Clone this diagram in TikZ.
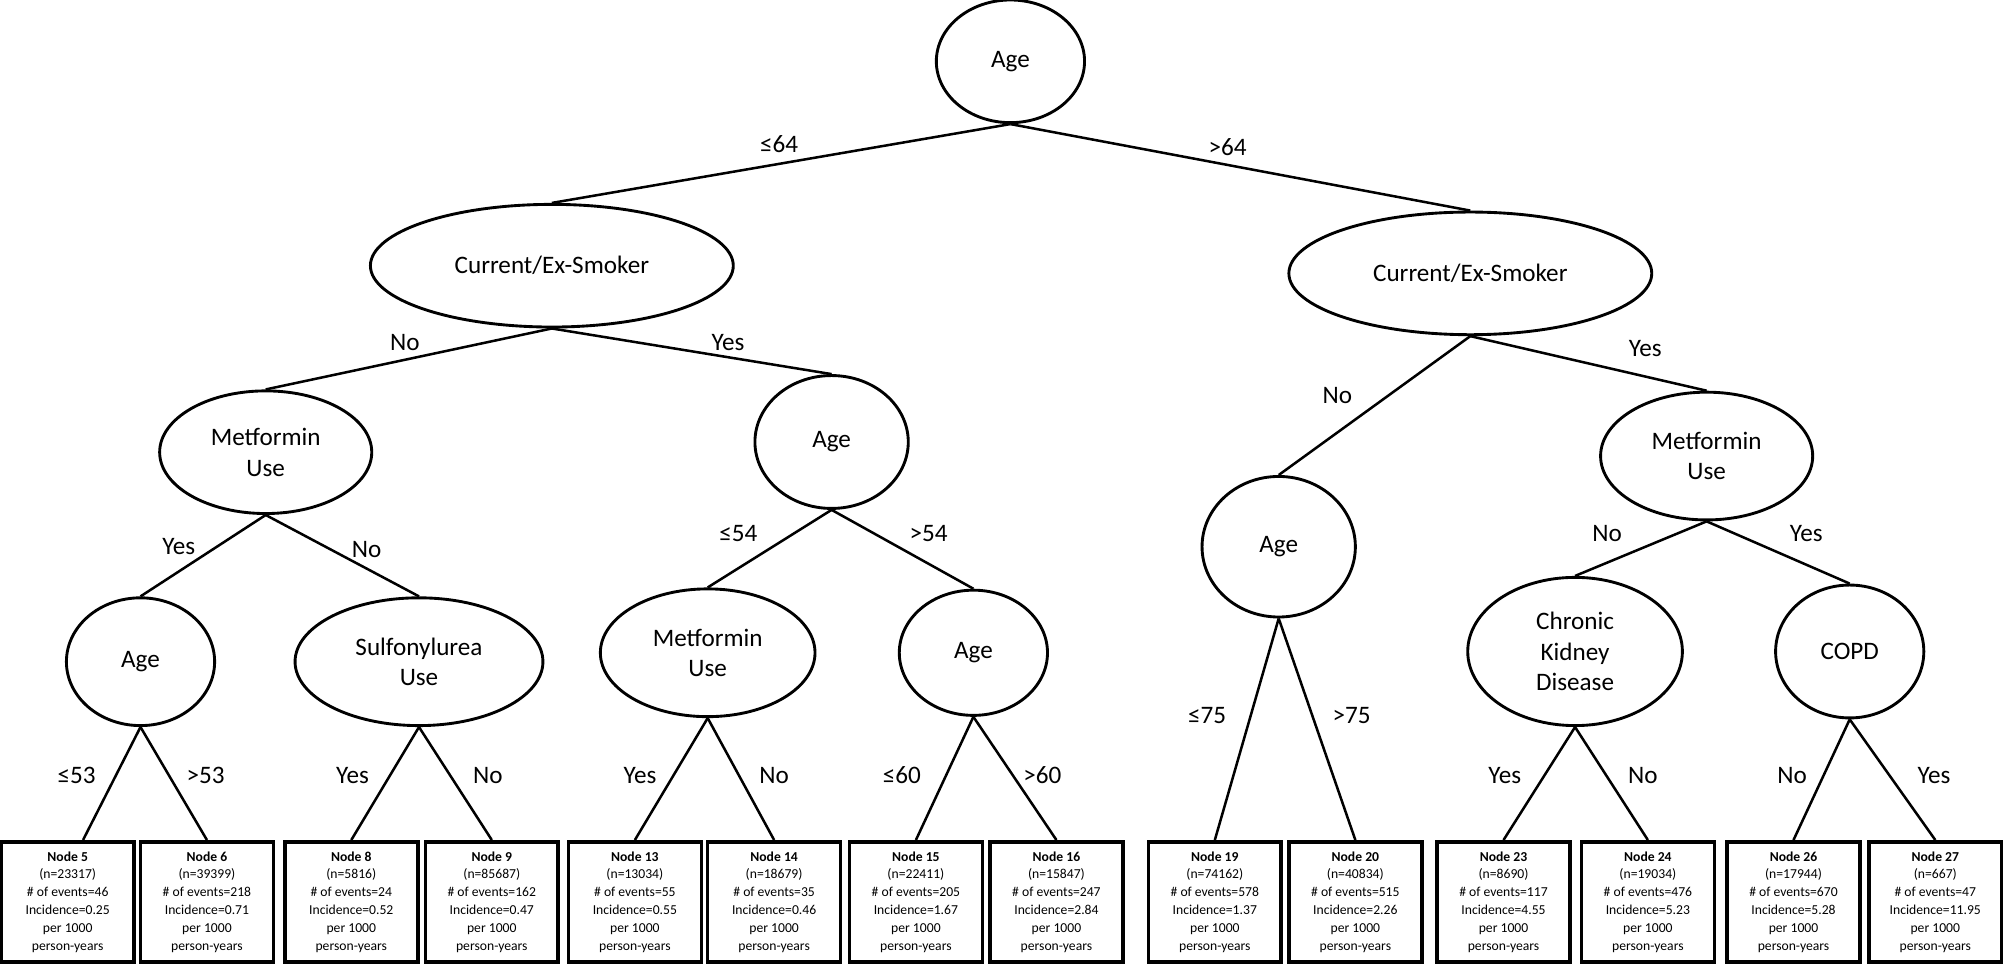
\documentclass[tikz,border=0pt]{standalone}
\usepackage{fontspec}
\setmainfont{Carlito}
\usetikzlibrary{shapes.geometric}
\begin{document}
\begin{tikzpicture}[x=0.025cm,y=-0.025cm,
  split/.style={draw,line width=1.6pt,ellipse,inner sep=0pt,align=center,font=\fontsize{14}{17}\selectfont},
  leaf/.style={draw,line width=2pt,minimum width=2.6cm,minimum height=2.35cm,inner sep=0pt,align=center,font=\fontsize{7.6}{9.9}\selectfont},
  edge/.style={line width=1.4pt},
  lab/.style={font=\fontsize{14}{17}\selectfont}]
\path[use as bounding box] (0,0) rectangle (1568,756);
% split nodes
\node[split,minimum width=2.9cm,minimum height=2.4cm] (root) at (791,48) {Age};
\node[split,minimum width=7.1cm,minimum height=2.4cm] (smL) at (432,208) {Current/Ex-Smoker};
\node[split,minimum width=7.1cm,minimum height=2.4cm] (smR) at (1151,214) {Current/Ex-Smoker};
\node[split,minimum width=4.15cm,minimum height=2.4cm] (metL) at (208,354) {Metformin\\Use};
\node[split,minimum width=3.0cm,minimum height=2.6cm] (ageY) at (651,346) {Age};
\node[split,minimum width=3.0cm,minimum height=2.75cm] (ageR) at (1001,428) {Age};
\node[split,minimum width=4.15cm,minimum height=2.5cm] (metR) at (1336,357) {Metformin\\Use};
\node[split,minimum width=2.9cm,minimum height=2.5cm] (ageA) at (110,518) {Age};
\node[split,minimum width=4.85cm,minimum height=2.5cm] (sulf) at (328,518) {Sulfonylurea\\Use};
\node[split,minimum width=4.2cm,minimum height=2.5cm] (metM) at (554,511) {Metformin\\Use};
\node[split,minimum width=2.9cm,minimum height=2.45cm] (ageB) at (762,511) {Age};
\node[split,minimum width=4.2cm,minimum height=2.9cm] (ckd) at (1233,510) {Chronic\\Kidney\\Disease};
\node[split,minimum width=2.9cm,minimum height=2.6cm] (copd) at (1448,510) {COPD};
% leaves
\newcommand{\leafnode}[6]{\node[leaf] (#1) at (#2,706) {\textbf{#3}\\(n=#4)\\\# of events=#5\\Incidence=#6\\per 1000\\person-years};}
\leafnode{n5}{53}{Node 5}{23317}{46}{0.25}
\leafnode{n6}{162}{Node 6}{39399}{218}{0.71}
\leafnode{n8}{275}{Node 8}{5816}{24}{0.52}
\leafnode{n9}{385}{Node 9}{85687}{162}{0.47}
\leafnode{n13}{497}{Node 13}{13034}{55}{0.55}
\leafnode{n14}{606}{Node 14}{18679}{35}{0.46}
\leafnode{n15}{717}{Node 15}{22411}{205}{1.67}
\leafnode{n16}{827}{Node 16}{15847}{247}{2.84}
\leafnode{n19}{951}{Node 19}{74162}{578}{1.37}
\leafnode{n20}{1061}{Node 20}{40834}{515}{2.26}
\leafnode{n23}{1177}{Node 23}{8690}{117}{4.55}
\leafnode{n24}{1290}{Node 24}{19034}{476}{5.23}
\leafnode{n26}{1404}{Node 26}{17944}{670}{5.28}
\leafnode{n27}{1515}{Node 27}{667}{47}{11.95}
% edges
\draw[edge] (root.south) -- (smL.north);
\draw[edge] (root.south) -- (smR.north);
\draw[edge] (smL.south) -- (metL.north);
\draw[edge] (smL.south) -- (ageY.north);
\draw[edge] (smR.south) -- (ageR.north);
\draw[edge] (smR.south) -- (metR.north);
\draw[edge] (metL.south) -- (ageA.north);
\draw[edge] (metL.south) -- (sulf.north);
\draw[edge] (ageY.south) -- (metM.north);
\draw[edge] (ageY.south) -- (ageB.north);
\draw[edge] (metR.south) -- (ckd.north);
\draw[edge] (metR.south) -- (copd.north);
\draw[edge] (ageA.south) -- ([xshift=0.3cm]n5.north);
\draw[edge] (ageA.south) -- (n6.north);
\draw[edge] (sulf.south) -- (n8.north);
\draw[edge] (sulf.south) -- (n9.north);
\draw[edge] (metM.south) -- (n13.north);
\draw[edge] (metM.south) -- (n14.north);
\draw[edge] (ageB.south) -- (n15.north);
\draw[edge] (ageB.south) -- (n16.north);
\draw[edge] (ageR.south) -- (n19.north);
\draw[edge] (ageR.south) -- (n20.north);
\draw[edge] (ckd.south) -- (n23.north);
\draw[edge] (ckd.south) -- (n24.north);
\draw[edge] (copd.south) -- (n26.north);
\draw[edge] (copd.south) -- (n27.north);
% edge labels
\node[lab] (l1) at (610,113) {≤64};
\node[lab] (l2) at (961,115) {>64};
\node[lab] (l3) at (317,268) {No};
\node[lab] (l4) at (570,268) {Yes};
\node[lab] (l5) at (1047,310) {No};
\node[lab] (l6) at (1288,273) {Yes};
\node[lab] (l7) at (140,428) {Yes};
\node[lab] (l8) at (287,430) {No};
\node[lab] (l9) at (578,418) {≤54};
\node[lab] (l10) at (727,418) {>54};
\node[lab] (l11) at (1258,418) {No};
\node[lab] (l12) at (1414,418) {Yes};
\node[lab] (l13) at (60,607) {≤53};
\node[lab] (l14) at (161,607) {>53};
\node[lab] (l15) at (276,607) {Yes};
\node[lab] (l16) at (382,607) {No};
\node[lab] (l17) at (501,607) {Yes};
\node[lab] (l18) at (606,607) {No};
\node[lab] (l19) at (706,607) {≤60};
\node[lab] (l20) at (816,607) {>60};
\node[lab] (l21) at (945,560) {≤75};
\node[lab] (l22) at (1058,560) {>75};
\node[lab] (l23) at (1178,607) {Yes};
\node[lab] (l24) at (1286,607) {No};
\node[lab] (l25) at (1403,607) {No};
\node[lab] (l26) at (1514,607) {Yes};
\end{tikzpicture}
\end{document}
